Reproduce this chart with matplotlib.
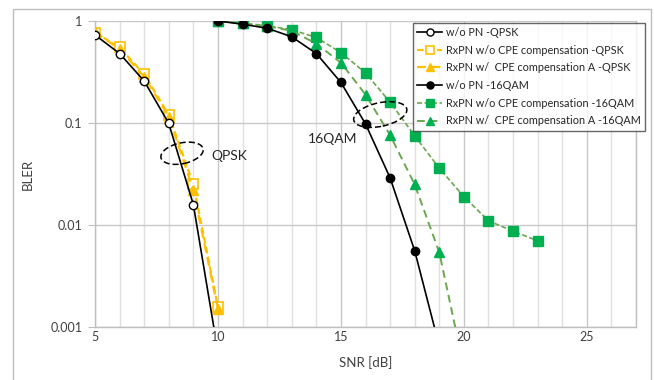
import matplotlib
matplotlib.use("Agg")
import matplotlib.pyplot as plt
import matplotlib.transforms as mtransforms
from matplotlib.patches import Ellipse, Rectangle
from matplotlib.ticker import FixedLocator, NullFormatter

plt.rcParams['font.family'] = ['Lato', 'DejaVu Sans']

# ---- data ----
snr_qpsk = [5, 6, 7, 8, 9, 10]
qpsk_wo_pn = [0.73, 0.48, 0.258, 0.099, 0.0158, 0.00057]
qpsk_rxpn_wo_cpe = [0.77, 0.55, 0.30, 0.12, 0.025, 0.00158]
qpsk_rxpn_cpe_a = [0.78, 0.53, 0.284, 0.115, 0.022, 0.0015]

snr_16qam = [10, 11, 12, 13, 14, 15, 16, 17, 18, 19]
qam_wo_pn = [1.0, 0.93, 0.85, 0.70, 0.48, 0.25, 0.098, 0.029, 0.0056, 0.00065]

snr_16qam_wo_cpe = [10, 11, 12, 13, 14, 15, 16, 17, 18, 19, 20, 21, 22, 23]
qam_rxpn_wo_cpe = [1.0, 0.95, 0.90, 0.82, 0.69, 0.49, 0.31, 0.16, 0.075,
                   0.036, 0.019, 0.011, 0.0087, 0.0070]

snr_16qam_cpe_a = [10, 11, 12, 13, 14, 15, 16, 17, 18, 19, 20]
qam_rxpn_cpe_a = [1.0, 0.95, 0.89, 0.80, 0.60, 0.39, 0.19, 0.076, 0.025,
                  0.0054, 0.0004]

labels = ["w/o PN -QPSK",
          "RxPN w/o CPE compensation -QPSK",
          "RxPN w/  CPE compensation A -QPSK",
          "w/o PN -16QAM",
          "RxPN w/o CPE compensation -16QAM",
          "RxPN w/  CPE compensation A -16QAM"]

x_ticks = [5, 10, 15, 20, 25]
y_ticks = [1, 0.1, 0.01, 0.001]
y_tick_labels = ["1", "0.1", "0.01", "0.001"]

# ---- figure ----
W, H = 654, 380
fig = plt.figure(figsize=(W / 100, H / 100), dpi=100)
ax = fig.add_axes([95 / W, 1 - 327 / H, (636 - 95) / W, (327 - 21) / H])

yellow = '#FFC000'
green_m = '#00B050'
green_l = '#6AA84F'

ax.plot(snr_qpsk, qpsk_wo_pn, '-', color='black', lw=1.2, marker='o', ms=6,
        mfc='white', mec='black', mew=1.0, label=labels[0], zorder=5)
ax.plot(snr_qpsk, qpsk_rxpn_wo_cpe, '--', color=yellow, lw=1.6, marker='s', ms=7,
        mfc='white', mec=yellow, mew=1.2, dashes=(3, 1.5), label=labels[1], zorder=4)
ax.plot(snr_qpsk, qpsk_rxpn_cpe_a, '--', color=yellow, lw=1.6, marker='^', ms=6.5,
        mfc=yellow, mec=yellow, dashes=(4, 2.5), label=labels[2], zorder=4)
ax.plot(snr_16qam, qam_wo_pn, '-', color='black', lw=1.2, marker='o', ms=6,
        mfc='black', mec='black', label=labels[3], zorder=5)
ax.plot(snr_16qam_wo_cpe, qam_rxpn_wo_cpe, '--', color=green_l, lw=1.2, marker='s',
        ms=7, mfc=green_m, mec=green_m, dashes=(3, 1.5), label=labels[4], zorder=4)
ax.plot(snr_16qam_cpe_a, qam_rxpn_cpe_a, '--', color=green_l, lw=1.4, marker='^',
        ms=6.5, mfc=green_m, mec=green_m, dashes=(4, 2.5), label=labels[5], zorder=4)

ax.set_yscale('log')
ax.set_xlim(5, 27)
ax.set_ylim(0.001, 1)

ax.xaxis.set_major_locator(FixedLocator(x_ticks))
ax.xaxis.set_minor_locator(FixedLocator(range(5, 28)))
ax.xaxis.set_minor_formatter(NullFormatter())
ax.yaxis.set_major_locator(FixedLocator(y_ticks))
ax.yaxis.set_minor_locator(FixedLocator([]))
ax.set_yticklabels(y_tick_labels)

ax.grid(True, which='major', axis='x', color='#c8c8c8', lw=1.0)
ax.grid(True, which='minor', axis='x', color='#e0e0e0', lw=1.0)
ax.grid(True, which='major', axis='y', color='#c8c8c8', lw=1.0)
ax.set_axisbelow(True)

ax.spines['top'].set_visible(False)
for s in ['left', 'bottom', 'right']:
    ax.spines[s].set_color('#bfbfbf')
    ax.spines[s].set_linewidth(1.0)

ax.tick_params(axis='y', which='major', length=5, color='#bfbfbf', labelsize=9,
               labelcolor='#404040', pad=4)
ax.tick_params(axis='x', which='both', length=0, labelsize=9, labelcolor='#404040', pad=3)

ax.set_xlabel('SNR [dB]', fontsize=9.5, color='#404040', labelpad=9)
ax.set_ylabel('BLER', fontsize=9.5, color='#404040', labelpad=12)

leg = ax.legend(loc='upper right',
                bbox_to_anchor=((645 - 95) / (636 - 95), 1 - (22.5 - 21) / 306),
                fontsize=7.8, frameon=True, fancybox=False, handlelength=2.3,
                handletextpad=0.35, borderpad=0.4, labelspacing=0.62, borderaxespad=0,
                markerscale=0.85)
leg.get_frame().set_edgecolor('#404040')
leg.get_frame().set_linewidth(1.0)
for t in leg.get_texts():
    t.set_color('#262626')
leg.set_zorder(10)


def ellipse_at(cx, cy, w_pt, h_pt, angle):
    tr = mtransforms.Affine2D().scale(fig.dpi / 72.0) + \
        mtransforms.ScaledTranslation(cx, cy, ax.transData)
    e = Ellipse((0, 0), w_pt, h_pt, angle=angle, transform=tr, fill=False,
                ec='black', lw=1.1, ls=(0, (4, 2)), zorder=6)
    ax.add_artist(e)


ellipse_at(8.54, 0.0505, 31, 15, 12)
ellipse_at(16.6, 0.121, 39, 17, 12)
ax.text(9.72, 0.047, 'QPSK', fontsize=10, color='#262626', va='center', ha='left')
ax.text(13.67, 0.0697, '16QAM', fontsize=10, color='#262626', va='center', ha='left')

# outer chart border
fig.add_artist(Rectangle((13 / W, -0.05), (651 - 13) / W, 1.05 - 9 / H,
                         transform=fig.transFigure, fill=False, ec='#bfbfbf', lw=1.0))

fig.savefig('out.png', dpi=100)
